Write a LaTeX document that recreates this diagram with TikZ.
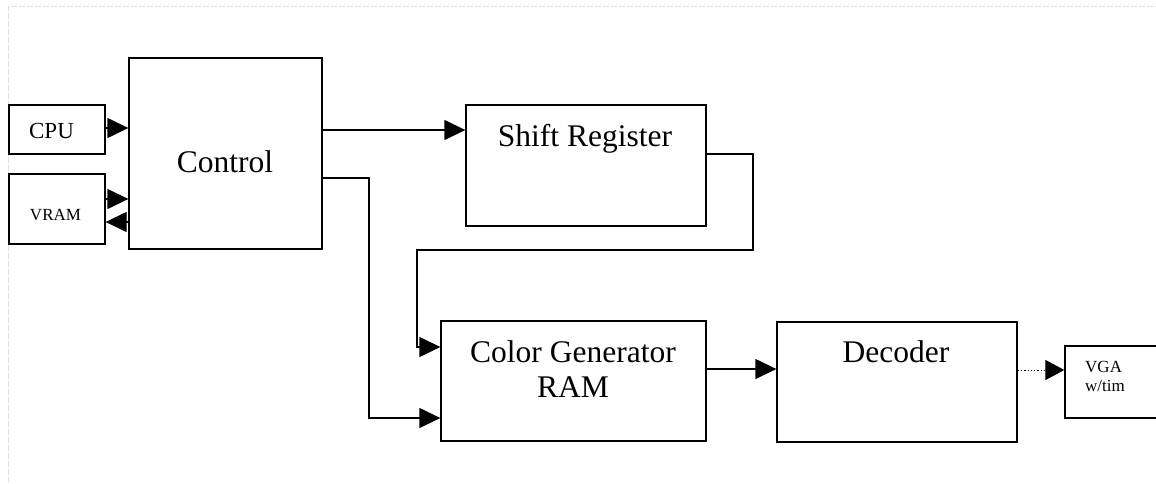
\documentclass[tikz,border=0pt]{standalone}
\usepackage{fontspec}
\setmainfont{Liberation Serif}
\usetikzlibrary{arrows.meta}
\tikzset{
  blk/.style={draw=black, line width=1.3pt, inner sep=0pt, fill=white},
  wire/.style={draw=black, line width=1.3pt, -{Triangle[length=21pt,width=20pt]}},
  plain/.style={draw=black, line width=1.3pt},
  bigtxt/.style={anchor=base, inner sep=0pt, font=\fontsize{31.5}{34}\selectfont},
  midtxt/.style={anchor=base, inner sep=0pt, font=\fontsize{23}{26}\selectfont},
  smalltxt/.style={anchor=base, inner sep=0pt, font=\fontsize{17}{19}\selectfont},
}
\begin{document}
\begin{tikzpicture}[x=1pt,y=-1pt]
\useasboundingbox (0,0) rectangle (1156,483);
\draw[black!12, line width=1pt, dash pattern=on 6pt off 2pt] (8,483) -- (8,6) -- (1156,6);

% boxes
\node[blk, minimum width=96pt, minimum height=49pt] (cpu) at (57,129.5) {};
\node[blk, minimum width=96pt, minimum height=70pt] (vram) at (57,209) {};
\node[blk, minimum width=193pt, minimum height=191pt] (ctrl) at (225.5,153.5) {};
\node[blk, minimum width=240pt, minimum height=121pt] (shift) at (586,165.5) {};
\node[blk, minimum width=265pt, minimum height=120pt] (cgr) at (573.5,381) {};
\node[blk, minimum width=240pt, minimum height=120pt] (dec) at (897,382) {};
\node[blk, minimum width=95pt, minimum height=72pt] (vga) at (1112.5,382) {};

% texts
\node[midtxt] (cpuT) at (51.5,138) {CPU};
\node[smalltxt] (vramT) at (55.5,220) {VRAM};
\node[bigtxt] (ctrlT) at (225,172) {Control};
\node[bigtxt] (shiftT) at (585,146) {Shift Register};
\node[bigtxt] (cgrT1) at (573,362) {Color Generator};
\node[bigtxt] (cgrT2) at (573,397) {RAM};
\node[bigtxt] (decT) at (896,362) {Decoder};
\node[smalltxt, anchor=base west] (vgaT1) at (1085,372) {VGA};
\node[smalltxt, anchor=base west] (vgaT2) at (1085,391) {w/tim};

% waypoints
\coordinate (c1) at (369,178);
\coordinate (c2) at (369,418);
\coordinate (s1) at (753,154);
\coordinate (s2) at (753,250);
\coordinate (s3) at (417,250);
\coordinate (s4) at (417,347);

% connectors
\draw[wire] (cpu.east |- 0,128) -- (ctrl.west |- 0,128);
\draw[wire] (vram.east |- 0,199) -- (ctrl.west |- 0,199);
\draw[wire] (ctrl.west |- 0,222) -- (vram.east |- 0,222);
\draw[wire] (ctrl.east |- 0,130) -- (shift.west |- 0,130);
\draw[wire] (ctrl.east |- c1) -- (c1) -- (c2) -- (cgr.west |- c2);
\draw[wire] (shift.east |- s1) -- (s1) -- (s2) -- (s3) -- (s4) -- (cgr.west |- s4);
\draw[wire] (cgr.east |- 0,369) -- (dec.west |- 0,369);
\draw[plain, dotted, line width=1pt, -{Triangle[length=19pt,width=20pt]}] (dec.east |- 0,370) -- (vga.west |- 0,370);
\end{tikzpicture}
\end{document}
